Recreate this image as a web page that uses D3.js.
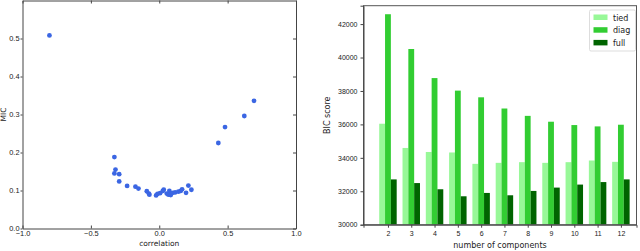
<!DOCTYPE html>
<html>
<head>
<meta charset="utf-8">
<script src="https://cdn.jsdelivr.net/npm/d3@7"></script>
<style>
  body { margin: 0; background: #fff; }
  svg { display: block; font-family: 'DejaVu Sans', sans-serif; }
  .axis text { fill: #222; font-size: 7px; }
  .axis path, .axis line { stroke: #444; }
  .left-axis text { font-size: 7.4px; }
</style>
</head>
<body>
<div id="chart"></div>
<script>
// left panel: correlation vs MIC
let corr = [-0.803, -0.328, -0.320, -0.328, -0.293, -0.293, -0.235, -0.174, -0.152, -0.091,
            -0.076, -0.072, -0.023, -0.013, 0.006, 0.026, 0.033, 0.055, 0.067, 0.074,
            0.079, 0.084, 0.099, 0.116, 0.140, 0.157, 0.167, 0.196, 0.213, 0.235,
            0.432, 0.481, 0.622, 0.693]
let mic = [0.508, 0.188, 0.155, 0.145, 0.143, 0.124, 0.112, 0.110, 0.105, 0.098,
           0.092, 0.089, 0.087, 0.091, 0.093, 0.099, 0.102, 0.092, 0.089, 0.099,
           0.092, 0.088, 0.094, 0.095, 0.097, 0.099, 0.103, 0.094, 0.113, 0.102,
           0.225, 0.267, 0.296, 0.336]
let corrTicks = [-1.0, -0.5, 0.0, 0.5, 1.0]
let micTicks = [0.0, 0.1, 0.2, 0.3, 0.4, 0.5]

// right panel: BIC score per number of components
let components = [2, 3, 4, 5, 6, 7, 8, 9, 10, 11, 12]
let tied = [36040, 34590, 34350, 34320, 33640, 33700, 33740, 33700, 33740, 33840, 33760]
let diag = [42590, 40510, 38770, 38020, 37620, 36950, 36510, 36160, 35960, 35880, 35980]
let full = [32710, 32490, 32120, 31700, 31900, 31760, 32020, 32220, 32400, 32550, 32710]
let bicTicks = [30000, 32000, 34000, 36000, 38000, 40000, 42000]
let seriesNames = ['tied', 'diag', 'full']
let seriesColors = ['#98f898', '#32cd32', '#006400']

let svg = d3.select('#chart').append('svg')
            .attr('width', 640)
            .attr('height', 251)

// ---------- left scatter ----------
let L = { left: 22.5, right: 296, top: 0.5, bottom: 228.5 }
let xCorr = d3.scaleLinear().domain([-1, 1]).range([L.left, L.right])
let yMic = d3.scaleLinear().domain([0, 0.6]).range([L.bottom, L.top])
let fmt1 = function(d){ return d3.format('.1f')(d).replace('-', '\u2212') }

let left = svg.append('g')

left.append('g').attr('class', 'axis left-axis')
    .attr('transform', 'translate(0,' + L.bottom + ')')
    .call(d3.axisBottom(xCorr).tickValues(corrTicks).tickFormat(fmt1).tickSizeOuter(0).tickSizeInner(-3).tickPadding(2))
left.append('g').attr('class', 'axis')
    .attr('transform', 'translate(0,' + L.top + ')')
    .call(d3.axisTop(xCorr).tickValues(corrTicks).tickFormat('').tickSizeOuter(0).tickSizeInner(-3))
left.append('g').attr('class', 'axis left-axis')
    .attr('transform', 'translate(' + L.left + ',0)')
    .call(d3.axisLeft(yMic).tickValues(micTicks).tickFormat(fmt1).tickSizeOuter(0).tickSizeInner(2).tickPadding(1))
left.append('g').attr('class', 'axis')
    .attr('transform', 'translate(' + L.right + ',0)')
    .call(d3.axisRight(yMic).tickValues(micTicks).tickFormat('').tickSizeOuter(0).tickSizeInner(-3))

left.selectAll('circle.dot')
    .data(corr)
    .enter()
    .append('circle')
    .attr('class', 'dot')
    .attr('cx', function(d){ return xCorr(d) })
    .attr('cy', function(d, i){ return yMic(mic[i]) })
    .attr('r', 2.4)
    .attr('fill', '#3b66e3')

left.append('text')
    .attr('x', (L.left + L.right) / 2)
    .attr('y', 246)
    .attr('text-anchor', 'middle')
    .style('font-size', '7.5px')
    .style('fill', '#222')
    .text('correlation')
left.append('text')
    .attr('transform', 'translate(6,' + (L.top + L.bottom) / 2 + ') rotate(-90)')
    .attr('text-anchor', 'middle')
    .style('font-size', '7.5px')
    .style('fill', '#222')
    .text('MIC')

// ---------- right grouped bars ----------
let R = { left: 363.5, right: 636.5, top: 5.7, bottom: 224.7 }
let xComp = d3.scaleLinear().domain([0.95, 12.67]).range([R.left, R.right])
let yBic = d3.scaleLinear().domain([30000, 43100]).range([R.bottom, R.top])
let barW = 0.25
let groups = [tied, diag, full]

let right = svg.append('g')

groups.forEach(function(values, s){
  right.selectAll('rect.bar-' + s)
       .data(values)
       .enter()
       .append('rect')
       .attr('class', 'bar-' + s)
       .attr('x', function(d, i){ return xComp(components[i] + barW * (s - 1) - barW / 2) })
       .attr('width', xComp(barW) - xComp(0))
       .attr('y', function(d){ return yBic(d) })
       .attr('height', function(d){ return R.bottom - yBic(d) })
       .attr('fill', seriesColors[s])
})

right.append('rect')
     .attr('x', R.left).attr('y', R.top)
     .attr('width', R.right - R.left).attr('height', R.bottom - R.top)
     .attr('fill', 'none').attr('stroke', '#555').attr('stroke-width', 1)

right.append('g').attr('class', 'axis')
     .attr('transform', 'translate(0,' + R.bottom + ')')
     .call(d3.axisBottom(xComp).tickValues(components).tickFormat(d3.format('d')).tickSizeOuter(0).tickSize(3).tickPadding(3))
right.append('g').attr('class', 'axis')
     .attr('transform', 'translate(' + R.left + ',0)')
     .call(d3.axisLeft(yBic).tickValues(bicTicks).tickFormat(d3.format('d')).tickSizeOuter(0).tickSize(3).tickPadding(3))

right.append('text')
     .attr('x', (R.left + R.right) / 2)
     .attr('y', 248)
     .attr('text-anchor', 'middle')
     .style('font-size', '8px')
     .style('fill', '#222')
     .text('number of components')
right.append('text')
     .attr('transform', 'translate(330,' + (R.top + R.bottom) / 2 + ') rotate(-90)')
     .attr('text-anchor', 'middle')
     .style('font-size', '8px')
     .style('fill', '#222')
     .text('BIC score')

// legend
let legend = right.append('g').attr('transform', 'translate(589.5,10)')
legend.append('rect')
      .attr('width', 46).attr('height', 41).attr('rx', 1.5)
      .attr('fill', '#fff').attr('stroke', '#ddd')
seriesNames.forEach(function(name, i){
  legend.append('rect')
        .attr('x', 4).attr('y', 4.5 + i * 12.7)
        .attr('width', 14).attr('height', 5.5)
        .attr('fill', seriesColors[i])
  legend.append('text')
        .attr('x', 23.5).attr('y', 10.5 + i * 12.7)
        .style('font-size', '8px')
        .style('fill', '#222')
        .text(name)
})
</script>
</body>
</html>
